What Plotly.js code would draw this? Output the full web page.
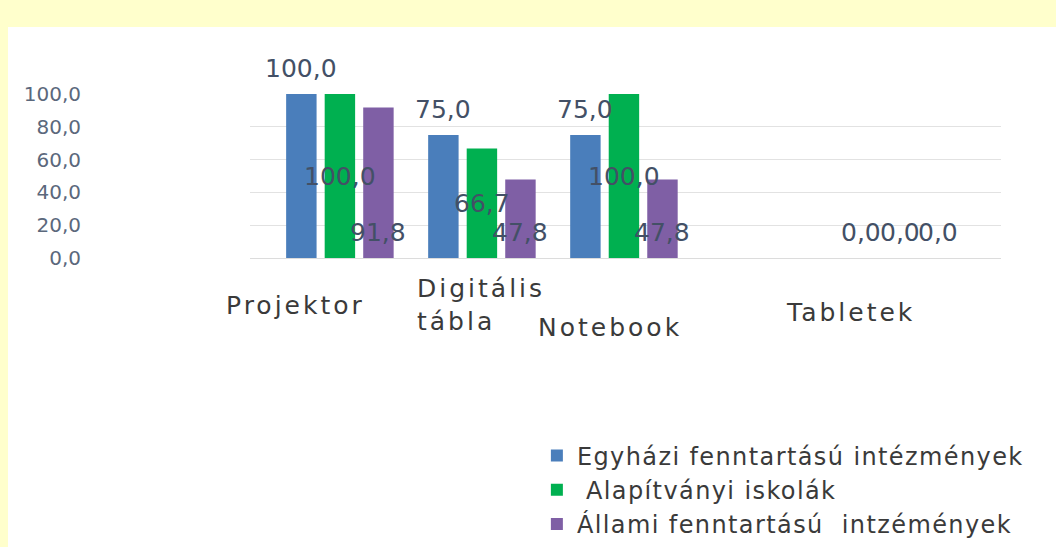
<!DOCTYPE html>
<html>
<head>
<meta charset="utf-8">
<script src="https://cdn.plot.ly/plotly-3.0.1.min.js"></script>
<style>
  html, body { margin: 0; padding: 0; }
  body { width: 1056px; height: 547px; background: #ffffcc; position: relative; overflow: hidden; }
  #chart { position: absolute; left: 8px; top: 27px; width: 1048px; height: 520px; background: #ffffff; }
</style>
</head>
<body>
<div id="chart"></div>
<script>
// ---- data ----
const categories = ['Projektor', 'Digitális tábla', 'Notebook', 'Tabletek'];
const categoryLabels = ['Projektor', 'Digitális<br>tábla', 'Notebook', 'Tabletek'];
const seriesNames = ['Egyházi fenntartású intézmények', ' Alapítványi iskolák', 'Állami fenntartású  intzémények'];
const egyhazi = [100, 75, 75, 0];
const alapitvanyi = [100, 66.7, 100, 0];
const allami = [91.8, 47.8, 47.8, 0];
const yTicks = [0, 20, 40, 60, 80, 100];

// ---- styling / layout config ----
const colors = ['#4a7ebb', '#00b050', '#7f5fa5'];
const labelColor = '#435066';
const W = 1048, H = 520;
const M = { l: 242, r: 55, t: 67, b: 289, autoexpand: false };
const xRange = [-0.633, 4.655];
const plotW = W - M.l - M.r;
const pxPerCat = plotW / (xRange[1] - xRange[0]);
const bargap = 0.186, bargroupgap = 0.21;
const slotPx = pxPerCat * (1 - bargap) / 3;
const slotShift = [-slotPx, 0, slotPx];
const labelModes = ['top', 'mid', 'base'];
const groupLabelShift = [0, 0, 0, 134];          // extra label offset per category (px)
const catLabelPos = [                             // category label placement (px offsets)
  { xshift: -44, yshift: -47, xanchor: 'center' },
  { xshift: -67, yshift: -47, xanchor: 'left' },
  { xshift: -14, yshift: -69, xanchor: 'center' },
  { xshift: 85, yshift: -54, xanchor: 'center' }
];
const spaced = (s, px) => '<span style="letter-spacing:' + px + 'px">' + s + '</span>';

const seriesValues = [egyhazi, alapitvanyi, allami];
const fmt = v => v.toFixed(1).replace('.', ',');

const traces = seriesValues.map((vals, i) => ({
  type: 'bar',
  name: spaced(seriesNames[i].replace(/ /g, '\u00a0'), 1.4),
  x: categories,
  y: vals,
  marker: { color: colors[i] },
  legendgroup: 'g' + i,
  hoverinfo: 'skip'
}));

const annotations = [];
seriesValues.forEach((vals, i) => {
  vals.forEach((v, j) => {
    let y = v, yshift = 0;
    if (v === 0 || labelModes[i] === 'base') { y = 0; yshift = 26; }
    else if (labelModes[i] === 'top') { y = v; yshift = 26; }
    else { y = v / 2; yshift = 0; }
    annotations.push({
      x: categories[j], y: y, xref: 'x', yref: 'y',
      text: fmt(v), showarrow: false,
      xshift: slotShift[i] + groupLabelShift[j], yshift: yshift,
      font: { family: 'DejaVu Sans', size: 25, color: labelColor }
    });
  });
});
categories.forEach((c, j) => {
  annotations.push({
    x: c, y: 0, xref: 'x', yref: 'y',
    text: categoryLabels[j].split('<br>').map(s => spaced(s, 3)).join('<br>'),
    showarrow: false, align: 'left',
    xanchor: catLabelPos[j].xanchor,
    xshift: catLabelPos[j].xshift, yshift: catLabelPos[j].yshift,
    font: { family: 'DejaVu Sans', size: 25, color: '#3a3a3a' }
  });
});

const layout = {
  width: W, height: H,
  margin: M,
  paper_bgcolor: '#ffffff', plot_bgcolor: '#ffffff',
  separators: ', ',
  barmode: 'group', bargap: bargap, bargroupgap: bargroupgap,
  showlegend: true,
  legend: {
    x: 0.382, y: -1.07, xanchor: 'left', yanchor: 'top',
    traceorder: 'grouped', tracegroupgap: 0,
    font: { family: 'DejaVu Sans', size: 24, color: '#3a3a3a' },
    bgcolor: 'rgba(0,0,0,0)'
  },
  xaxis: {
    type: 'category', range: xRange,
    showticklabels: false, showgrid: false, zeroline: false, showline: false, ticks: ''
  },
  yaxis: {
    range: [0, 100], tickvals: yTicks, tickformat: '.1f',
    showgrid: true, gridcolor: '#e2e2e2', gridwidth: 1,
    zeroline: true, zerolinecolor: '#dcdcdc', zerolinewidth: 1,
    showline: false, ticks: '', ticklabelstandoff: 168,
    tickfont: { family: 'DejaVu Sans', size: 20, color: '#5b687c' }
  },
  annotations: annotations
};

Plotly.newPlot('chart', traces, layout, { displayModeBar: false, staticPlot: true });
</script>
</body>
</html>
